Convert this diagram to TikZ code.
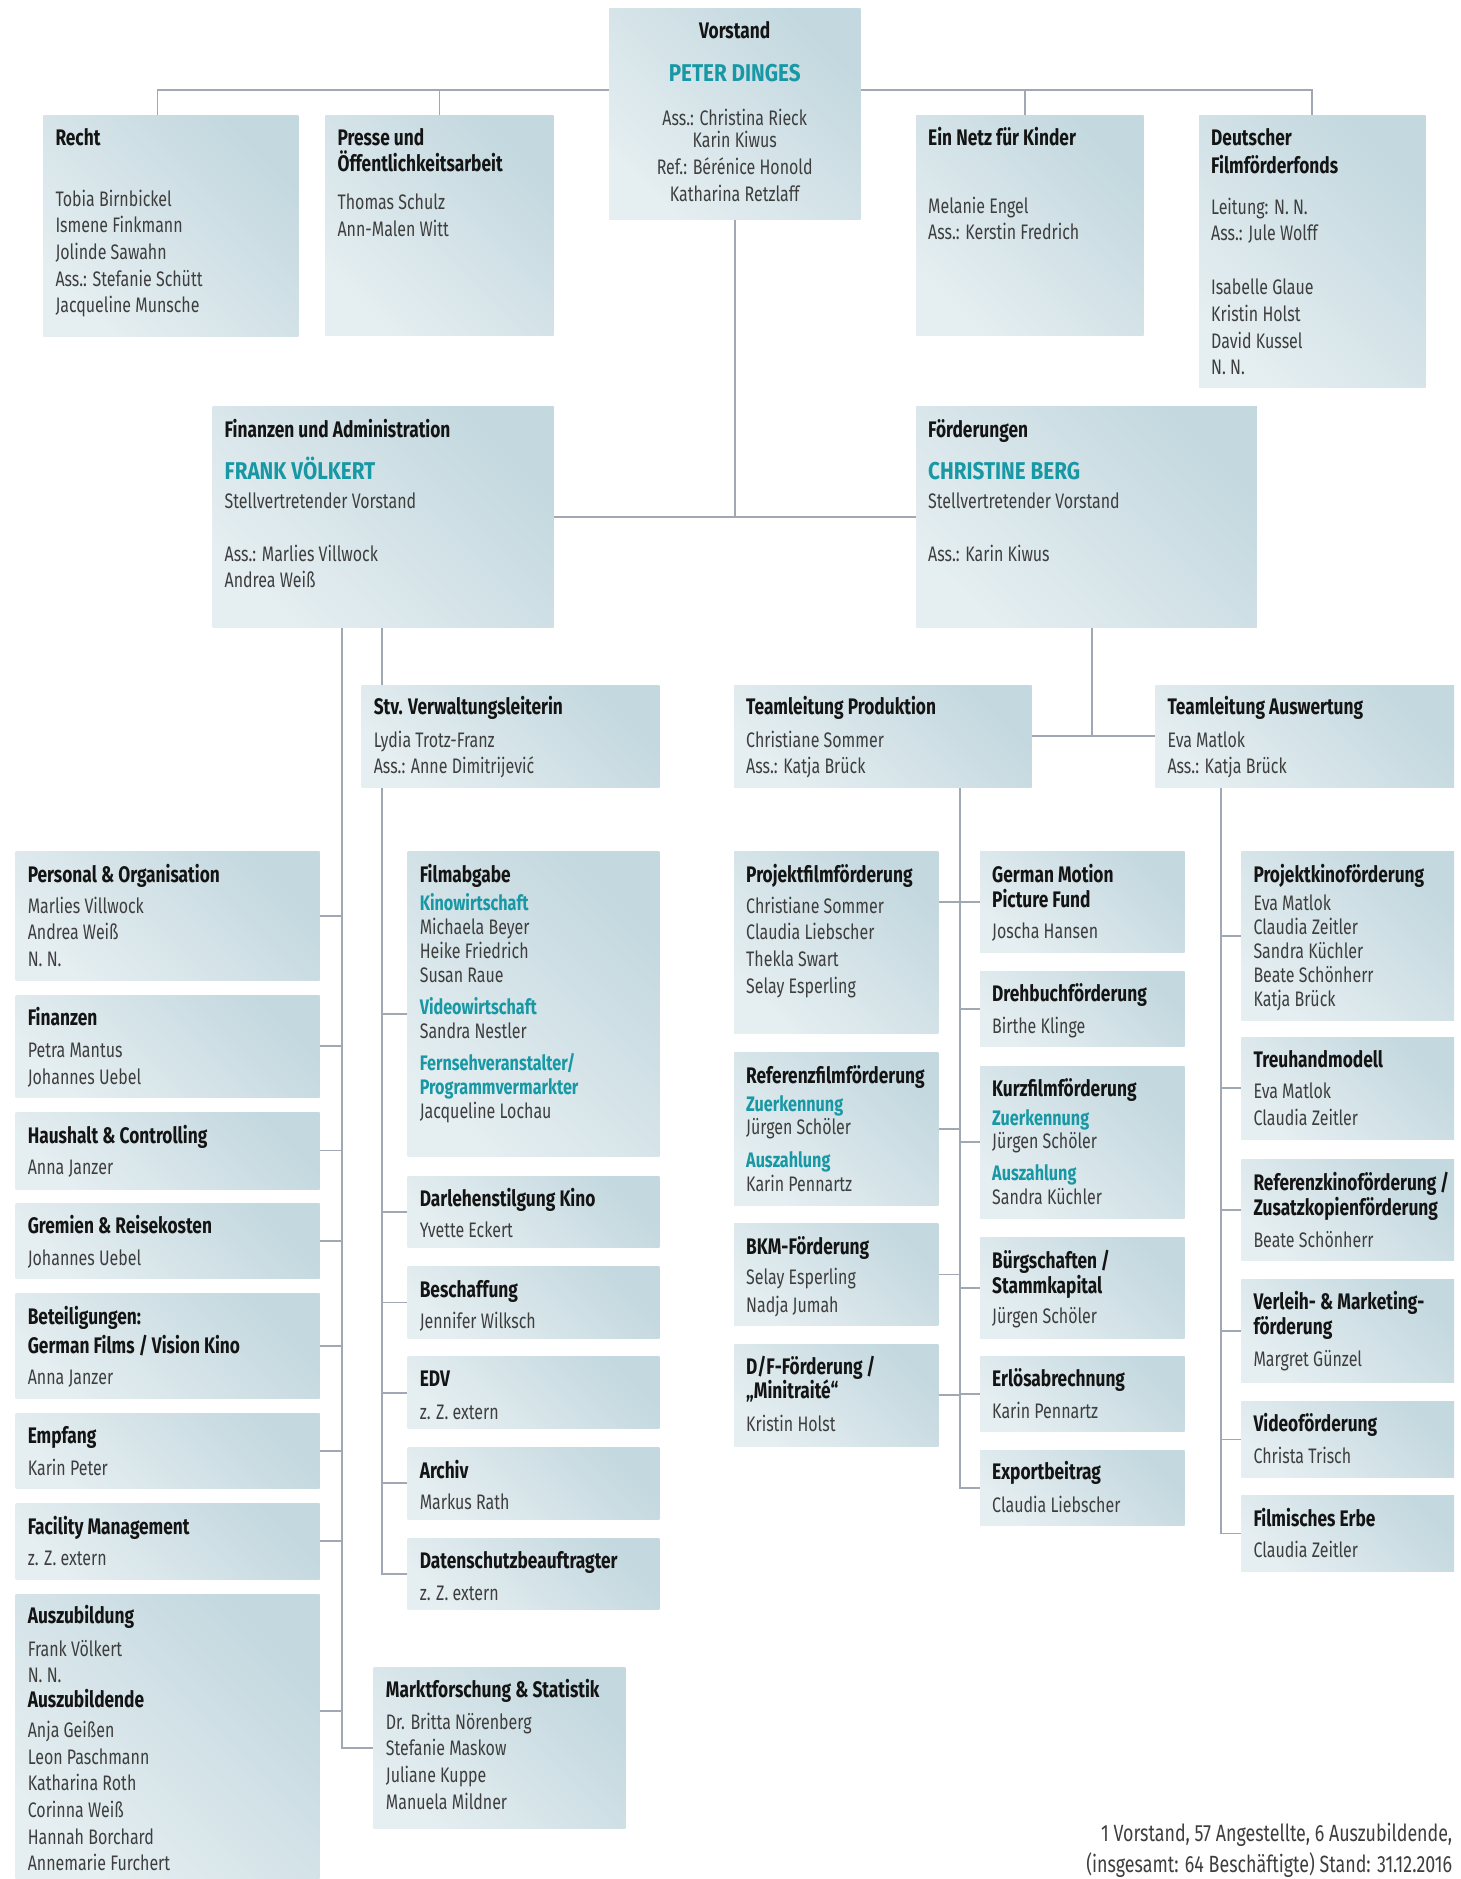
\documentclass[tikz,border=0pt]{standalone}
\usepackage{fontspec}
\setmainfont{Fira Sans}[UprightFeatures={FakeStretch=0.76},BoldFeatures={FakeStretch=0.77}]
\newfontfamily\bigfont{Fira Sans}[FakeStretch=0.85]
\usetikzlibrary{backgrounds}

\definecolor{boxdark}{RGB}{195,216,223}
\definecolor{boxlight}{RGB}{229,238,241}
\definecolor{linegray}{RGB}{160,168,180}
\definecolor{fffteal}{RGB}{24,152,164}
\definecolor{namegray}{RGB}{62,62,62}
\definecolor{ttlblack}{RGB}{20,20,20}

\newcommand\boxttl[1]{\rule{0pt}{20pt}{\fontsize{22.5}{26.6}\selectfont\bfseries\color{ttlblack}#1}}
\newcommand\subhd[1]{{\bfseries\color{fffteal}#1}}
\newcommand\bigname[1]{{\fontsize{24.3}{26.6}\bigfont\bfseries\color{fffteal}#1}}

\tikzset{
  box/.style={anchor=north west, inner sep=0pt, outer sep=0pt,
    top color=boxdark, bottom color=boxlight, shading angle=-45},
  txt/.style={anchor=north west, inner sep=0pt, align=left, text=namegray,
    font=\fontsize{21}{26.6}\selectfont},
  tight/.style={font=\fontsize{21}{24}\selectfont},
  conn/.style={draw=linegray, line width=1.8pt},
}

\begin{document}
\begin{tikzpicture}[x=1pt,y=-1pt]
  \useasboundingbox (0,0) rectangle (1461,1879);

  % Vorstand und Stabsstellen
  \node[box, minimum width=251.5pt, minimum height=211.3pt] (vorstand) at (609,8) {};
  \node[txt, anchor=north, align=center] (vorstand-t) at (734.7,18) {\boxttl{Vorstand}\\[16.4pt]
    \bigname{PETER DINGES}\\[17.4pt] Ass.: Christina Rieck\\[-4pt] Karin Kiwus\\ Ref.: Bérénice Honold\\ Katharina Retzlaff};

  \node[box, minimum width=255.1pt, minimum height=221.7pt] (recht) at (43.3,115) {};
  \node[txt] (recht-t) at (55.3,125) {\boxttl{Recht}\\[34.4pt] Tobia Birnbickel\\ Ismene Finkmann\\
    Jolinde Sawahn\\ Ass.: Stefanie Schütt\\ Jacqueline Munsche};

  \node[box, minimum width=228.1pt, minimum height=220.7pt] (presse) at (325.4,115) {};
  \node[txt] (presse-t) at (337.4,125) {\boxttl{Presse und}\\ \boxttl{Öffentlichkeitsarbeit}\\[11.4pt]
    Thomas Schulz\\ Ann-Malen Witt};

  \node[box, minimum width=227.5pt, minimum height=220.7pt] (netz) at (916,115) {};
  \node[txt] (netz-t) at (928,125) {\boxttl{Ein Netz für Kinder}\\[41.4pt] Melanie Engel\\ Ass.: Kerstin Fredrich};

  \node[box, minimum width=226.6pt, minimum height=272.3pt] (dfff) at (1199,115) {};
  \node[txt] (dfff-t) at (1211,125) {\boxttl{Deutscher}\\[1.4pt] \boxttl{Filmförderfonds}\\[14.4pt]
    Leitung: N. N.\\ Ass.: Jule Wolff\\[27.4pt] Isabelle Glaue\\ Kristin Holst\\ David Kussel\\ N. N.};

  % Bereiche
  \node[box, minimum width=341.1pt, minimum height=221.7pt] (fin) at (212.5,406) {};
  \node[txt] (fin-t) at (224.5,417) {\boxttl{Finanzen und Administration}\\[16.1pt] \bigname{FRANK VÖLKERT}\\[1.7pt]
    Stellvertretender Vorstand\\[26.4pt] Ass.: Marlies Villwock\\ Andrea Weiß};

  \node[box, minimum width=340.8pt, minimum height=221.7pt] (foerd) at (916,406) {};
  \node[txt] (foerd-t) at (928,417) {\boxttl{Förderungen}\\[16.1pt] \bigname{CHRISTINE BERG}\\[1.7pt]
    Stellvertretender Vorstand\\[26.4pt] Ass.: Karin Kiwus};

  \node[box, minimum width=297.8pt, minimum height=102.7pt] (stv) at (361.6,685) {};
  \node[txt] (stv-t) at (373.6,694.7) {\boxttl{Stv. Verwaltungsleiterin}\\[5.7pt] Lydia Trotz-Franz\\ Ass.: Anne Dimitrijević};

  \node[box, minimum width=297.6pt, minimum height=102.7pt] (tlprod) at (734,685) {};
  \node[txt] (tlprod-t) at (746,694.7) {\boxttl{Teamleitung Produktion}\\[5.7pt] Christiane Sommer\\ Ass.: Katja Brück};

  \node[box, minimum width=298.7pt, minimum height=102.7pt] (tlausw) at (1155.3,685) {};
  \node[txt] (tlausw-t) at (1167.3,694.7) {\boxttl{Teamleitung Auswertung}\\[5.7pt] Eva Matlok\\ Ass.: Katja Brück};

  % Verwaltung links
  \node[box, minimum width=304pt, minimum height=129.7pt] (personal) at (15.6,851) {};
  \node[txt] (personal-t) at (27.6,862.3) {\boxttl{Personal \& Organisation}\\[4.1pt] Marlies Villwock\\ Andrea Weiß\\ N. N.};

  \node[box, minimum width=304pt, minimum height=102.7pt] (finanz) at (15.6,995) {};
  \node[txt] (finanz-t) at (27.6,1005.3) {\boxttl{Finanzen}\\[5.4pt] Petra Mantus\\ Johannes Uebel};

  \node[box, minimum width=304pt, minimum height=77pt] (haushalt) at (15.6,1112) {};
  \node[txt] (haushalt-t) at (27.6,1123) {\boxttl{Haushalt \& Controlling}\\[5.1pt] Anna Janzer};

  \node[box, minimum width=304pt, minimum height=75.7pt] (gremien) at (15.6,1203) {};
  \node[txt] (gremien-t) at (27.6,1213.7) {\boxttl{Gremien \& Reisekosten}\\[5.4pt] Johannes Uebel};

  \node[box, minimum width=304pt, minimum height=105.6pt] (beteil) at (15.6,1293) {};
  \node[txt] (beteil-t) at (27.6,1304.6) {\boxttl{Beteiligungen:}\\[1.8pt] \boxttl{German Films / Vision Kino}\\[4.8pt] Anna Janzer};

  \node[box, minimum width=304pt, minimum height=75.7pt] (empfang) at (15.6,1413) {};
  \node[txt] (empfang-t) at (27.6,1422.8) {\boxttl{Empfang}\\[5.6pt] Karin Peter};

  \node[box, minimum width=304pt, minimum height=76.5pt] (facility) at (15.6,1503) {};
  \node[txt] (facility-t) at (27.6,1514) {\boxttl{Facility Management}\\[4.8pt] z. Z. extern};

  \node[box, minimum width=304pt, minimum height=284.7pt] (ausbildung) at (15.6,1594.3) {};
  \node[txt] (ausbildung-t) at (27.6,1603.7) {\boxttl{Auszubildung}\\[5.6pt] Frank Völkert\\[-0.5pt] N. N.\\[-1.8pt]
    \boxttl{Auszubildende}\\[4.1pt] Anja Geißen\\ Leon Paschmann\\ Katharina Roth\\ Corinna Weiß\\
    Hannah Borchard\\ Annemarie Furchert};

  % Verwaltung rechts
  \node[box, minimum width=251.8pt, minimum height=305.7pt] (filmabgabe) at (407.6,851) {};
  \node[txt, tight] (filmabgabe-t) at (419.6,862.3) {\boxttl{Filmabgabe}\\[4.4pt] \subhd{Kinowirtschaft}\\
    Michaela Beyer\\ Heike Friedrich\\ Susan Raue\\[7.7pt] \subhd{Videowirtschaft}\\ Sandra Nestler\\[8.3pt]
    \subhd{Fernsehveranstalter/}\\ \subhd{Programmvermarkter}\\ Jacqueline Lochau};

  \node[box, minimum width=251.8pt, minimum height=71.7pt] (darlehen) at (407.6,1176) {};
  \node[txt] (darlehen-t) at (419.6,1186.3) {\boxttl{Darlehenstilgung Kino}\\[4.4pt] Yvette Eckert};

  \node[box, minimum width=251.8pt, minimum height=72.8pt] (beschaffung) at (407.6,1266) {};
  \node[txt] (beschaffung-t) at (419.6,1277.3) {\boxttl{Beschaffung}\\[4.4pt] Jennifer Wilksch};

  \node[box, minimum width=251.8pt, minimum height=71.6pt] (edv) at (407.6,1356.9) {};
  \node[txt] (edv-t) at (419.6,1366.7) {\boxttl{EDV}\\[6.2pt] z. Z. extern};

  \node[box, minimum width=251.8pt, minimum height=72.7pt] (archiv) at (407.6,1447) {};
  \node[txt] (archiv-t) at (419.6,1458.6) {\boxttl{Archiv}\\[4.1pt] Markus Rath};

  \node[box, minimum width=251.8pt, minimum height=71.3pt] (datenschutz) at (407.6,1538.2) {};
  \node[txt] (datenschutz-t) at (419.6,1548.3) {\boxttl{Datenschutzbeauftragter}\\[5.6pt] z. Z. extern};

  \node[box, minimum width=251.7pt, minimum height=161.4pt] (markt) at (373.7,1667.4) {};
  \node[txt] (markt-t) at (385.7,1676.8) {\boxttl{Marktforschung \& Statistik}\\[5.6pt] Dr. Britta Nörenberg\\
    Stefanie Maskow\\ Juliane Kuppe\\ Manuela Mildner};

  % Produktion
  \node[box, minimum width=204.3pt, minimum height=182.3pt] (projektfilm) at (734,851) {};
  \node[txt] (projektfilm-t) at (746,862.3) {\boxttl{Projektfilmförderung}\\[4.1pt] Christiane Sommer\\
    Claudia Liebscher\\ Thekla Swart\\ Selay Esperling};

  \node[box, minimum width=204.3pt, minimum height=153.7pt] (referenzfilm) at (734,1052) {};
  \node[txt, tight] (referenzfilm-t) at (746,1063) {\boxttl{Referenzfilmförderung}\\[4.3pt] \subhd{Zuerkennung}\\[-0.6pt]
    Jürgen Schöler\\[8.6pt] \subhd{Auszahlung}\\ Karin Pennartz};

  \node[box, minimum width=204.3pt, minimum height=102.4pt] (bkm) at (734,1223.3) {};
  \node[txt] (bkm-t) at (746,1234) {\boxttl{BKM-Förderung}\\[4.1pt] Selay Esperling\\[0.7pt] Nadja Jumah};

  \node[box, minimum width=204.3pt, minimum height=102.6pt] (df) at (734,1344) {};
  \node[txt] (df-t) at (746,1354.5) {\boxttl{D/F-Förderung\,/}\\[-2.6pt] \boxttl{„Minitraité“}\\[5.9pt] Kristin Holst};

  \node[box, minimum width=204.5pt, minimum height=101.7pt] (gmpf) at (980,851) {};
  \node[txt] (gmpf-t) at (992,862.3) {\boxttl{German Motion}\\[-1.6pt] \boxttl{Picture Fund}\\[4.1pt] Joscha Hansen};

  \node[box, minimum width=204.5pt, minimum height=75.7pt] (drehbuch) at (980,971) {};
  \node[txt] (drehbuch-t) at (992,981.3) {\boxttl{Drehbuchförderung}\\[5.1pt] Birthe Klinge};

  \node[box, minimum width=204.5pt, minimum height=152.3pt] (kurzfilm) at (980,1066) {};
  \node[txt, tight] (kurzfilm-t) at (992,1076.3) {\boxttl{Kurzfilmförderung}\\[5pt] \subhd{Zuerkennung}\\[-0.6pt]
    Jürgen Schöler\\[8pt] \subhd{Auszahlung}\\[-0.7pt] Sandra Küchler};

  \node[box, minimum width=204.5pt, minimum height=101.8pt] (buerg) at (980,1237) {};
  \node[txt] (buerg-t) at (992,1248) {\boxttl{Bürgschaften\,/}\\[-1.6pt] \boxttl{Stammkapital}\\[3.9pt] Jürgen Schöler};

  \node[box, minimum width=204.5pt, minimum height=75.5pt] (erloes) at (980,1356) {};
  \node[txt] (erloes-t) at (992,1366.7) {\boxttl{Erlösabrechnung}\\[4.7pt] Karin Pennartz};

  \node[box, minimum width=204.5pt, minimum height=75.6pt] (export) at (980,1450) {};
  \node[txt] (export-t) at (992,1459.7) {\boxttl{Exportbeitrag}\\[5.9pt] Claudia Liebscher};

  % Auswertung
  \node[box, minimum width=212.7pt, minimum height=169.7pt] (projektkino) at (1241.3,851) {};
  \node[txt, tight] (projektkino-t) at (1253.3,862.3) {\boxttl{Projektkinoförderung}\\[4.4pt] Eva Matlok\\
    Claudia Zeitler\\ Sandra Küchler\\ Beate Schönherr\\ Katja Brück};

  \node[box, minimum width=212.7pt, minimum height=102.7pt] (treuhand) at (1241.3,1037) {};
  \node[txt] (treuhand-t) at (1253.3,1047.3) {\boxttl{Treuhandmodell}\\[4.1pt] Eva Matlok\\[0.7pt] Claudia Zeitler};

  \node[box, minimum width=212.7pt, minimum height=101.3pt] (refkino) at (1241.3,1159) {};
  \node[txt] (refkino-t) at (1253.3,1170.7) {\boxttl{Referenzkinoförderung\,/}\\[-2pt] \boxttl{Zusatzkopienförderung}\\[5.4pt]
    Beate Schönherr};

  \node[box, minimum width=212.7pt, minimum height=103.7pt] (verleih) at (1241.3,1279) {};
  \node[txt] (verleih-t) at (1253.3,1289.7) {\boxttl{Verleih- \& Marketing-}\\[-1.6pt] \boxttl{förderung}\\[5.1pt] Margret Günzel};

  \node[box, minimum width=212.7pt, minimum height=76.4pt] (video) at (1241.3,1401.2) {};
  \node[txt] (video-t) at (1253.3,1411.7) {\boxttl{Videoförderung}\\[4.7pt] Christa Trisch};

  \node[box, minimum width=212.7pt, minimum height=76.8pt] (erbe) at (1241.3,1495) {};
  \node[txt] (erbe-t) at (1253.3,1505.9) {\boxttl{Filmisches Erbe}\\[4.8pt] Claudia Zeitler};

  % Stand
  \node[txt, anchor=north east, align=right, font=\fontsize{23.5}{31.4}\selectfont] (stand) at (1452.4,1820.9)
    {\rule{0pt}{20pt}1 Vorstand, 57 Angestellte, 6 Auszubildende,\\ (insgesamt: 64 Beschäftigte) Stand: 31.12.2016};

  % Linien
  \coordinate (bar) at (735,90);
  \coordinate (ltrunk) at (342,0);
  \coordinate (rtrunk) at (381.7,0);
  \coordinate (ptrunk) at (959.7,0);
  \coordinate (atrunk) at (1220.9,0);
  \begin{scope}[on background layer]
    \draw[conn] ([xshift=-13.4pt]recht.north) |- (bar) -| (dfff.north);
    \draw[conn] (presse.north) -- (presse.north |- bar);
    \draw[conn] ([xshift=-5pt]netz.north) -- ([xshift=-5pt]netz.north |- bar);
    \draw[conn] (vorstand.south) -- (vorstand.south |- fin.east);
    \draw[conn] (fin.east) -- (foerd.west);
    \draw[conn] ([xshift=5.6pt]foerd.south) -- ([xshift=5.6pt]foerd.south |- tlprod.east);
    \draw[conn] (tlprod.east) -- (tlausw.west);
    % Finanzen und Administration
    \draw[conn] (fin.south -| ltrunk) |- (markt.west);
    \foreach \b in {personal,finanz,haushalt,gremien,beteil,empfang,facility}
      \draw[conn] (\b.east) -- (\b.east -| ltrunk);
    \draw[conn] ([yshift=25.6pt]ausbildung.east) -- ([yshift=25.6pt]ausbildung.east -| ltrunk);
    \draw[conn] (fin.south -| rtrunk) |- (datenschutz.west);
    \draw[conn] ([yshift=-9.8pt]filmabgabe.west) -- ([yshift=-9.8pt]filmabgabe.west -| rtrunk);
    \foreach \b in {darlehen,beschaffung,edv,archiv}
      \draw[conn] (\b.west) -- (\b.west -| rtrunk);
    % Produktion
    \draw[conn] (tlprod.south -| ptrunk) |- (export.west);
    \draw[conn] (gmpf.west) -- (gmpf.west -| projektfilm.east);
    \foreach \b in {referenzfilm,bkm,df}
      \draw[conn] (\b.east) -- (\b.east -| ptrunk);
    \foreach \b in {drehbuch,kurzfilm,buerg,erloes}
      \draw[conn] (\b.west) -- (\b.west -| ptrunk);
    % Auswertung
    \draw[conn] (tlausw.south -| atrunk) |- (erbe.west);
    \foreach \b in {projektkino,treuhand,refkino,verleih,video}
      \draw[conn] (\b.west) -- (\b.west -| atrunk);
  \end{scope}
\end{tikzpicture}
\end{document}
